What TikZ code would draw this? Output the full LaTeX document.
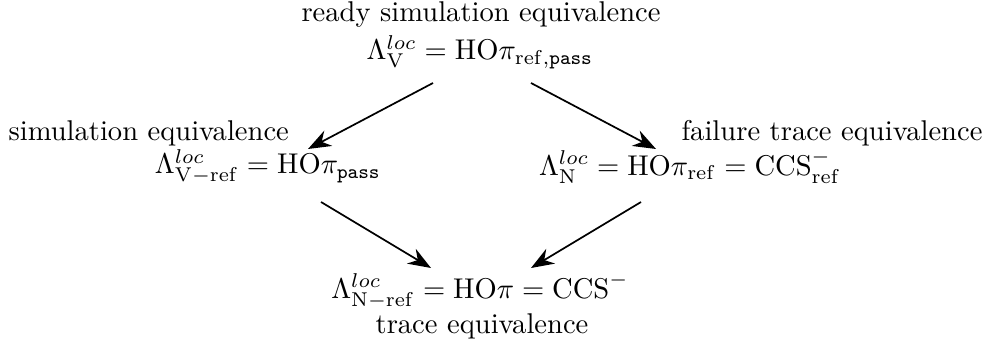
\documentclass[tikz,border=0pt]{standalone}
\usetikzlibrary{arrows.meta}
\begin{document}
\begin{tikzpicture}[x=0.35pt,y=-0.35pt,
  lbl/.style={inner sep=0pt,anchor=center},
  arr/.style={-{Stealth[length=8pt,width=6pt]},line width=0.6pt}]
\useasboundingbox (0,0) rectangle (989,353);
\node[lbl] (ttop) at (481,15) {ready simulation equivalence};
\node[lbl] (ftop) at (480,52) {$\Lambda^{loc}_{\mathrm{V}} = \mathrm{HO}\pi_{\mathrm{ref},\mathtt{pass}}$};
\node[lbl,anchor=west] (tleft) at (8,133) {simulation equivalence};
\node[lbl] (fleft) at (268,167) {$\Lambda^{loc}_{\mathrm{V-ref}} = \mathrm{HO}\pi_{\mathtt{pass}}$};
\node[lbl,anchor=east] (tright) at (983,133) {failure trace equivalence};
\node[lbl] (fright) at (690,167) {$\Lambda^{loc}_{\mathrm{N}} = \mathrm{HO}\pi_{\mathrm{ref}} = \mathrm{CCS}^{-}_{\mathrm{ref}}$};
\node[lbl] (fbot) at (480,291) {$\Lambda^{loc}_{\mathrm{N-ref}} = \mathrm{HO}\pi = \mathrm{CCS}^{-}$};
\node[lbl] (tbot) at (482,326) {trace equivalence};
\coordinate (a1s) at (433,83); \coordinate (a1e) at (308,149);
\coordinate (a2s) at (531,83); \coordinate (a2e) at (656,149);
\coordinate (a3s) at (321,202); \coordinate (a3e) at (431,268);
\coordinate (a4s) at (641,202); \coordinate (a4e) at (531,268);
\draw[arr] (a1s) -- (a1e);
\draw[arr] (a2s) -- (a2e);
\draw[arr] (a3s) -- (a3e);
\draw[arr] (a4s) -- (a4e);
\end{tikzpicture}
\end{document}
